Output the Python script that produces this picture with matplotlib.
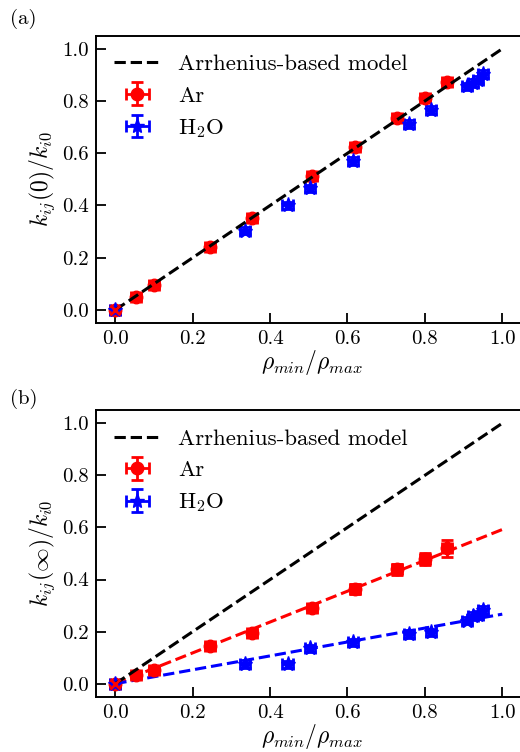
import numpy as np
import matplotlib
matplotlib.use('Agg')
import matplotlib.pyplot as plt

plt.rcParams['font.family'] = 'serif'
plt.rcParams['font.serif'] = ['cmr10']
plt.rcParams['mathtext.fontset'] = 'cm'
plt.rcParams['axes.formatter.use_mathtext'] = True
plt.rcParams['font.size'] = 15

# Ar data
ar_x = [0.0, 0.053, 0.100, 0.244, 0.352, 0.509, 0.619, 0.727, 0.800, 0.856]
ar_y0 = [0.0, 0.051, 0.097, 0.242, 0.352, 0.511, 0.625, 0.735, 0.812, 0.873]
ar_yinf = [0.0, 0.032, 0.051, 0.143, 0.194, 0.290, 0.363, 0.439, 0.478, 0.520]
ar_yinf_err = [0.012, 0.012, 0.012, 0.014, 0.014, 0.016, 0.018, 0.02, 0.022, 0.032]

# H2O data
h2o_x = [0.0, 0.334, 0.445, 0.503, 0.615, 0.759, 0.817, 0.909, 0.925, 0.938, 0.951]
h2o_y0 = [0.0, 0.303, 0.401, 0.466, 0.570, 0.712, 0.765, 0.856, 0.869, 0.882, 0.903]
h2o_yinf = [0.0, 0.076, 0.074, 0.136, 0.159, 0.191, 0.197, 0.242, 0.261, 0.264, 0.283]

# fitted slopes for k(inf)
ar_slope = 0.592
h2o_slope = 0.267

fig = plt.figure(figsize=(5.2, 7.52), dpi=100)
ax1 = fig.add_axes([0.1846, 0.5705, 0.83, 0.382])
ax2 = fig.add_axes([0.1846, 0.0735, 0.83, 0.381])

xl = np.array([0.0, 1.0])

def draw(ax, yar, yh2o, yar_err):
    ax.plot(xl, xl, '--', color='black', lw=2.2, label='Arrhenius-based model', zorder=3)
    ax.errorbar(ar_x, yar, xerr=0.013, yerr=yar_err, fmt='o', color='red',
                ms=9, capsize=4, elinewidth=2, capthick=2, label='Ar', zorder=2)
    ax.errorbar(h2o_x, yh2o, xerr=0.013, yerr=0.014, fmt='*', color='blue',
                ms=11, capsize=4, elinewidth=2, capthick=2, label=r'H$_2$O', zorder=2)
    ax.plot([0], [0], 'x', color='red', ms=7, mew=2, zorder=4)
    ax.set_xlim(-0.05, 1.05 * 0.83 / 0.822 + 0.0)
    ax.set_xlim(-0.05, -0.05 + 1.1 * 0.83 / 0.8185)
    ax.set_ylim(-0.05, 1.05)
    ax.set_xticks([0, 0.2, 0.4, 0.6, 0.8, 1.0])
    ax.set_yticks([0, 0.2, 0.4, 0.6, 0.8, 1.0])
    ax.xaxis.set_major_formatter(matplotlib.ticker.FormatStrFormatter('%.1f'))
    ax.yaxis.set_major_formatter(matplotlib.ticker.FormatStrFormatter('%.1f'))
    ax.tick_params(direction='in', length=7, width=1.3, labelsize=15, pad=5)
    for s in ax.spines.values():
        s.set_linewidth(1.4)
    ax.set_xlabel(r'$\rho_{min}/\rho_{max}$', fontsize=17, labelpad=0)
    ax.legend(loc='upper left', frameon=False, fontsize=16.5, handlelength=2.0,
              handletextpad=0.8, borderaxespad=0.4, labelspacing=0.5)

draw(ax1, ar_y0, h2o_y0, 0.014)
ax1.set_ylabel(r'$k_{ij}(0)/k_{i0}$', fontsize=17)

draw(ax2, ar_yinf, h2o_yinf, ar_yinf_err)
ax2.plot(xl, ar_slope * xl, '--', color='red', lw=2.2, zorder=1)
ax2.plot(xl, h2o_slope * xl, '--', color='blue', lw=2.2, zorder=1)
ax2.set_ylabel(r'$k_{ij}(\infty)/k_{i0}$', fontsize=17)

fig.text(0.02, 0.975, '(a)', fontsize=15, va='center')
fig.text(0.02, 0.47, '(b)', fontsize=15, va='center')

fig.savefig('out.png', dpi=100)
